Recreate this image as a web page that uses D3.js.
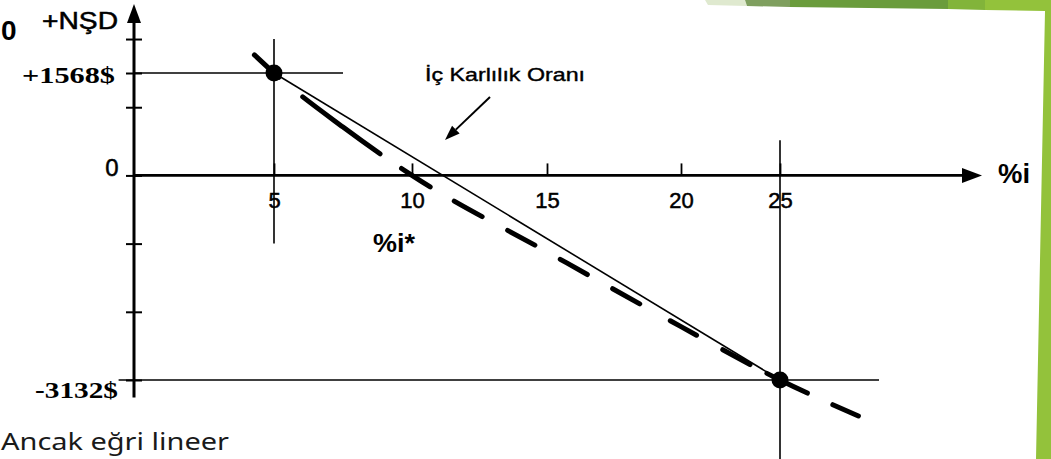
<!DOCTYPE html>
<html><head><meta charset="utf-8">
<script src="https://cdn.jsdelivr.net/npm/d3@7"></script>
<style>
html,body{margin:0;padding:0;background:#fff;overflow:hidden}
svg{display:block}
</style></head><body>
<svg id="chart" width="1051" height="459"></svg>
<script>
// Discount rates (%) marked on the horizontal axis
const rateTicks = [5, 10, 15, 20, 25];
// NPV ticks on the vertical axis ($); one step is 3132 / 3
const npvTicks = [-3132, -2088, -1044, 0, 1044, 1568, 2088];
const npvLabels = {"0": "0", "1568": "+1568$", "-3132": "-3132$"};
// The two computed NPV points joined by the straight (interpolation) line
const knownRates = [5, 25];
const knownNpv = [1568, -3132];
// The actual, curved NPV profile (dashed)
const curveRates = [4.3, 5, 7.5, 10, 15, 20, 25, 29.2];
const curveNpv = [1845, 1568, 740, 0, -1170, -2315, -3132, -3715];
// Rate where the actual profile crosses zero
const irrStar = 10;

const svg = d3.select("#chart");
const sans = "Arial, 'Liberation Sans', Helvetica, sans-serif";
const serif = "'Times New Roman', 'Liberation Serif', serif";

// hand-drawn rate axis: spacing narrows after 20
const x = d3.scaleLinear().domain([0, 5, 10, 15, 20, 25]).range([134, 274, 412, 547, 681, 780]);
const y = d3.scaleLinear().domain([-3132, 1568]).range([380, 73]);
const x0 = x(0), y0 = y(0);

// slide decoration (green frame pieces)
const deco = svg.append("g");
[
  {p: [[705,0],[745,0],[747,6],[708,5]], c: "#dfe9cf"},
  {p: [[745,0],[790,0],[790,7],[747,6]], c: "#7f9f5f"},
  {p: [[790,0],[948,0],[948,9],[790,7]], c: "#6a9c3c"},
  {p: [[948,0],[985,0],[985,10],[948,9]], c: "#82b43a"},
  {p: [[985,0],[1051,0],[1051,459],[1036,459],[1045,11],[985,10]], c: "#93c23b"}
].forEach(d => deco.append("polygon").attr("points", d.p.map(q => q.join(",")).join(" ")).attr("fill", d.c));

const ink = "#000";

// guide lines through the two computed points
const guides = svg.append("g").attr("stroke", ink).attr("stroke-width", 1.6).attr("fill", "none");
guides.append("line").attr("x1", x0).attr("x2", x(7.5)).attr("y1", y(knownNpv[0])).attr("y2", y(knownNpv[0]));
guides.append("line").attr("x1", x(knownRates[0])).attr("x2", x(knownRates[0])).attr("y1", y(2088)).attr("y2", y(-1044));
guides.append("line").attr("x1", x(knownRates[1])).attr("x2", x(knownRates[1])).attr("y1", y(540)).attr("y2", 459);
guides.append("line").attr("x1", x(-0.55)).attr("x2", x(30)).attr("y1", y(knownNpv[1])).attr("y2", y(knownNpv[1]));

// horizontal axis ticks and labels
const gx = svg.append("g").attr("transform", `translate(0,${y0})`)
  .call(d3.axisBottom(x).tickValues(rateTicks).tickSize(-12).tickPadding(17));
gx.select(".domain").remove();
gx.selectAll(".tick line").attr("stroke", ink).attr("stroke-width", 1.8);
gx.selectAll(".tick text").attr("fill", ink).attr("stroke", ink).attr("stroke-width", 0.5)
  .style("font-family", sans).style("font-size", "22px");

// vertical axis ticks and labels
const gy = svg.append("g").attr("transform", `translate(${x0},0)`)
  .call(d3.axisLeft(y).tickValues(npvTicks).tickSize(8).tickFormat(d => npvLabels[d] || ""));
gy.select(".domain").remove();
gy.selectAll(".tick line").attr("x1", 8).attr("stroke", ink).attr("stroke-width", 2);
gy.selectAll(".tick text").attr("fill", ink).each(function(d) {
  const t = d3.select(this);
  if (d === 0) {
    t.attr("text-anchor", "middle").attr("x", -22).attr("y", 0).attr("dy", 0)
     .attr("stroke", ink).attr("stroke-width", 0.5)
     .style("font-family", sans).style("font-size", "24px");
  } else if (d === 1568) {
    t.attr("text-anchor", "start").attr("x", -112).attr("y", 9).attr("dy", 0)
     .attr("textLength", 93).attr("lengthAdjust", "spacingAndGlyphs")
     .style("font-family", serif).style("font-weight", "bold").style("font-size", "24px");
  } else if (d === -3132) {
    t.attr("text-anchor", "start").attr("x", -99).attr("y", 17).attr("dy", 0)
     .attr("textLength", 83).attr("lengthAdjust", "spacingAndGlyphs")
     .style("font-family", serif).style("font-weight", "bold").style("font-size", "23px");
  }
});

// axis lines with arrow heads
const axes = svg.append("g");
axes.append("line").attr("x1", x0).attr("x2", x0).attr("y1", y(-3400)).attr("y2", 20)
  .attr("stroke", ink).attr("stroke-width", 3);
axes.append("path").attr("d", `M${x0},4 L${x0 - 7},23 L${x0 + 7},23 Z`).attr("fill", ink);
axes.append("line").attr("x1", x0).attr("x2", 966).attr("y1", y0).attr("y2", y0)
  .attr("stroke", ink).attr("stroke-width", 2.6);
axes.append("path").attr("d", `M982,${y0} L962,${y0 - 7.5} L962,${y0 + 7.5} Z`).attr("fill", ink);

// straight interpolation line between the two computed points
const linePts = knownRates.map((r, i) => [r, knownNpv[i]]);
svg.append("path").datum(linePts)
  .attr("d", d3.line().x(d => x(d[0])).y(d => y(d[1])))
  .attr("fill", "none").attr("stroke", ink).attr("stroke-width", 1.6);

// actual NPV profile, drawn with uneven hand-ruled dashes
const curvePts = curveRates.map((r, i) => [r, curveNpv[i]]);
svg.append("path").datum(curvePts)
  .attr("d", d3.line().x(d => x(d[0])).y(d => y(d[1])).curve(d3.curveMonotoneX))
  .attr("fill", "none").attr("stroke", ink).attr("stroke-width", 5)
  .attr("stroke-linecap", "round")
  .attr("stroke-dasharray", "33,31,96,26,34,28,32,29,31,29,31,29,31,35,30,30,31,19,45,28,28,60");

// computed points
svg.append("g").selectAll("circle").data(linePts).join("circle")
  .attr("cx", d => x(d[0])).attr("cy", d => y(d[1])).attr("r", 8.5).attr("fill", ink);

// texts
const txt = (s, px, py, o) => {
  const t = svg.append("text").attr("x", px).attr("y", py).text(s).attr("fill", o.fill || ink)
    .style("font-family", o.family || sans).style("font-size", o.size + "px")
    .style("font-weight", o.weight || "normal");
  if (o.stroke) t.attr("stroke", o.fill || ink).attr("stroke-width", o.stroke);
  if (o.len) t.attr("textLength", o.len).attr("lengthAdjust", "spacingAndGlyphs");
  if (o.anchor) t.attr("text-anchor", o.anchor);
  return t;
};
txt("0", 1, 40, {size: 28, weight: "bold"});
txt("+NŞD", 42, 29, {size: 23, len: 76, stroke: 0.5});
txt("İç Karlılık Oranı", 425, 81, {size: 19, len: 160, stroke: 0.4});
txt("%i*", x(irrStar) - 39, 252, {size: 26, weight: "bold", len: 42});
txt("%i", 998, 183, {size: 27, weight: "bold", len: 32});
txt("Ancak eğri lineer", 1, 450, {size: 23, family: "'Noto Sans', 'Open Sans', sans-serif", len: 228, fill: "#1a1a1a"});

// pointer to the internal rate of return
const a0 = [490, 97], a1 = [445, 140];
const ang = Math.atan2(a1[1] - a0[1], a1[0] - a0[0]);
const hl = 15, hw = 5.5;
const bx = a1[0] - hl * Math.cos(ang), by = a1[1] - hl * Math.sin(ang);
svg.append("line").attr("x1", a0[0]).attr("y1", a0[1]).attr("x2", bx).attr("y2", by)
  .attr("stroke", ink).attr("stroke-width", 2);
svg.append("path").attr("d",
  `M${a1[0]},${a1[1]} L${bx + hw * Math.sin(ang)},${by - hw * Math.cos(ang)} L${bx - hw * Math.sin(ang)},${by + hw * Math.cos(ang)} Z`)
  .attr("fill", ink);
</script>
</body></html>
